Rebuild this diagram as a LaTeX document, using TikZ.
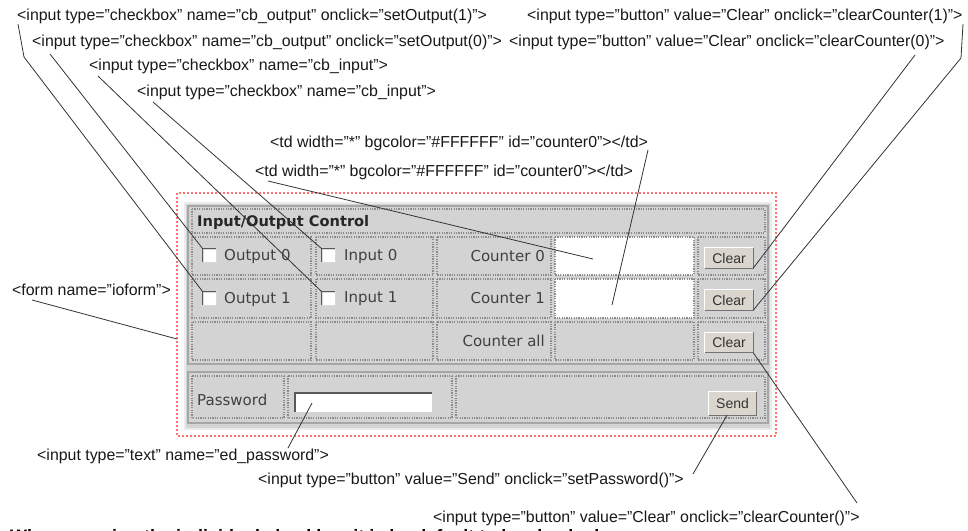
\documentclass[tikz,border=0pt]{standalone}
\usepackage{fontspec}
\setmainfont{Liberation Sans}
\newfontfamily\uifont{DejaVu Sans}
\begin{document}
\begin{tikzpicture}[x=1pt,y=-1pt,
  lbl/.style={font=\fontsize{15.9}{18}\selectfont, inner sep=0pt, anchor=west, text=black!90},
  ui/.style={font=\uifont\fontsize{15}{18}\selectfont, inner sep=0pt, text=black!75},
  conn/.style={draw=black!80, line width=0.8pt},
  cellb/.style={draw=black!45, line width=1.6pt, dash pattern=on 1.2pt off 1.2pt},
  tbl/.style={draw=black!35, line width=1.4pt},
  chk/.style={fill=white, draw=black!15, line width=0.6pt, minimum width=13pt, minimum height=13pt, inner sep=0pt},
  btn/.style={fill=btnc, minimum width=48pt, minimum height=20pt, inner sep=0pt, font=\fontsize{14}{16}\selectfont, text=black!80},
  edit/.style={fill=white, minimum width=137pt, minimum height=19pt, inner sep=0pt}
]
\definecolor{btnc}{HTML}{DAD6CE}
\definecolor{panel}{HTML}{D3D3D3}
\definecolor{redd}{HTML}{FF7070}
\useasboundingbox (0,0) rectangle (968,530);
\clip (0,0) rectangle (968,530);
\fill[white] (0,0) rectangle (968,530);

% form frame
\draw[redd, line width=1.3pt, dash pattern=on 2pt off 2pt] (177,193) rectangle (776,436);
\fill[panel] (185,203) rectangle (771,429);
\draw[black!8, line width=2pt] (185,203) rectangle (771,429);

% table 1
\draw[tbl] (188,206) rectangle (768,364);
\draw[cellb] (192,209) rectangle (765,233);
\foreach \ya/\yb in {237/275, 279/318, 322/360}{
  \draw[cellb] (192,\ya) rectangle (311,\yb);
  \draw[cellb] (316,\ya) rectangle (433,\yb);
  \draw[cellb] (437,\ya) rectangle (551,\yb);
  \draw[cellb] (698,\ya) rectangle (765,\yb);
}
\draw[cellb, fill=white] (555,237) rectangle (694,275);
\draw[cellb, fill=white] (555,279) rectangle (694,318);
\draw[cellb] (555,322) rectangle (694,360);

% table 2
\draw[tbl] (188,372) rectangle (768,423);
\draw[cellb] (192,376) rectangle (284,418);
\draw[cellb] (288,376) rectangle (452,418);
\draw[cellb] (456,376) rectangle (765,418);

% texts in the form
\node[ui, anchor=west, font=\uifont\bfseries\fontsize{14.6}{17}\selectfont, text=black!85] (title) at (197,222) {Input/Output Control};
\node[chk] (cbo0) at (209.5,255.5) {};
\node[chk] (cbo1) at (209.5,298.5) {};
\node[chk] (cbi0) at (328.5,255.5) {};
\node[chk] (cbi1) at (328.5,298.5) {};
\foreach \c in {cbo0,cbo1,cbi0,cbi1}{
  \draw[black!65, line width=1.2pt] (\c.south west) |- (\c.north east);
}
\node[ui, anchor=west] (to0) at (224,256) {Output 0};
\node[ui, anchor=west] (to1) at (224,299) {Output 1};
\node[ui, anchor=west] (ti0) at (344,256) {Input 0};
\node[ui, anchor=west] (ti1) at (344,299) {Input 1};
\node[ui, anchor=east] (tc0) at (545,256) {Counter 0};
\node[ui, anchor=east] (tc1) at (545,298) {Counter 1};
\node[ui, anchor=east] (tca) at (545,341) {Counter all};
\node[ui, anchor=west] (tpw) at (197,400) {Password};

\node[btn] (clr0) at (729,258) {Clear};
\node[btn] (clr1) at (729,300) {Clear};
\node[btn] (clra) at (729,342.5) {Clear};
\node[btn, minimum width=47pt, minimum height=23pt] (send) at (732.5,403.5) {Send};
\foreach \b in {clr0,clr1,clra,send}{
  \draw[white, line width=1pt] (\b.south west) |- (\b.north east);
  \draw[black!55, line width=1.4pt] (\b.north east) |- (\b.south west);
}
\node[edit] (pw) at (363.5,402.5) {};
\draw[black!65, line width=1.4pt] (pw.south west) |- (pw.north east);

% labels
\node[lbl] (l1) at (17,16) {<input type="checkbox" name="cb\_output" onclick="setOutput(1)">};
\node[lbl] (l2) at (32,42) {<input type="checkbox" name="cb\_output" onclick="setOutput(0)">};
\node[lbl] (l3) at (89,66) {<input type="checkbox" name="cb\_input">};
\node[lbl] (l4) at (137,92) {<input type="checkbox" name="cb\_input">};
\node[lbl] (r1) at (527,16) {<input type="button" value="Clear" onclick="clearCounter(1)">};
\node[lbl] (r0) at (509,42) {<input type="button" value="Clear" onclick="clearCounter(0)">};
\node[lbl] (td1) at (270,143) {<td width="*" bgcolor="\#FFFFFF" id="counter0"></td>};
\node[lbl] (td0) at (255,172) {<td width="*" bgcolor="\#FFFFFF" id="counter0"></td>};
\node[lbl] (lform) at (12,290) {<form name="ioform">};
\node[lbl] (led) at (37,456) {<input type="text" name="ed\_password">};
\node[lbl] (lsend) at (258,480) {<input type="button" value="Send" onclick="setPassword()">};
\node[lbl] (lclr) at (433,518) {<input type="button" value="Clear" onclick="clearCounter()">};
\node[anchor=base west, inner sep=0pt, font=\bfseries\fontsize{18}{20}\selectfont] (note) at (10,542) {When pressing the individual checkbox it is by default to be checked};

% connector points
\coordinate (p1a) at (18,24);
\coordinate (p1b) at (24,57);
\coordinate (p2) at (50,54);
\coordinate (p3) at (98,76);
\coordinate (p4) at (153,102);
\coordinate (pr1a) at (963,24);
\coordinate (pr1b) at (961,58);
\coordinate (pr0) at (915,55);
\coordinate (ptd1) at (648,150);
\coordinate (ptd0) at (268,181);
\coordinate (ptd1e) at (612,305);
\coordinate (ptd0e) at (593,259);
\coordinate (pform) at (32,300);
\coordinate (pforme) at (177,339);
\coordinate (ped) at (288,448);
\coordinate (pede) at (312,403);
\coordinate (psend) at (693,474);
\coordinate (pclr) at (857,503);

\draw[conn] (p1a) -- (p1b) -- (cbo1.north west);
\draw[conn] (p2) -- (cbo0.north west);
\draw[conn] (p3) -- (cbi1.north west);
\draw[conn] (p4) -- (cbi0.north west);
\draw[conn] (pr1a) -- (pr1b) -- (clr1.south east);
\draw[conn] (pr0) -- (clr0.south east);
\draw[conn] (ptd1) -- (ptd1e);
\draw[conn] (ptd0) -- (ptd0e);
\draw[conn] (pform) -- (pforme);
\draw[conn] (ped) -- (pede);
\draw[conn] (psend) -- (send.south west -| 727,0);
\draw[conn] (pclr) -- (clra.south east);
\end{tikzpicture}
\end{document}
